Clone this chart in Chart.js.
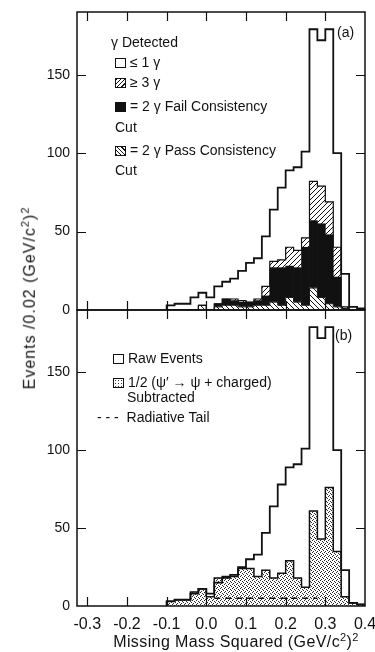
<!DOCTYPE html>
<html>
<head>
<meta charset="utf-8">
<script src="https://cdn.jsdelivr.net/npm/chart.js@4.4.1/dist/chart.umd.min.js"></script>
<style>
  body { margin: 0; background: #fff; }
  #wrap { position: relative; width: 375px; height: 652px; overflow: hidden;
          font-family: "Liberation Sans", Arial, sans-serif; color: #111; }
  canvas { position: absolute; left: 0; }
  .lg { position: absolute; font-size: 14px; line-height: 14px; white-space: nowrap; }
  .sw { display: inline-block; width: 9px; height: 8px; border: 1px solid #111;
        vertical-align: -1px; margin-right: 4px; background: #fff; }
  .sw.fwd { background: repeating-linear-gradient(135deg, #111 0 1px, #fff 1px 3px); }
  .sw.back { background: repeating-linear-gradient(45deg, #111 0 1px, #fff 1px 3px); }
  .sw.blk { background: #111; }
  .sw.dots { background: radial-gradient(#333 0.7px, #fff 1px) 0 0 / 3px 3px; }
  .ytitle { position: absolute; left: 29px; top: 298px; font-size: 16px; white-space: nowrap;
            letter-spacing: 1px; transform: translate(-50%, -50%) rotate(-90deg); }
  .xtitle { position: absolute; left: 236px; top: 641px; font-size: 16px; white-space: nowrap;
            letter-spacing: 0.4px; transform: translate(-50%, -50%); }
</style>
</head>
<body>
<div id="wrap">
  <canvas id="top" style="top:0" width="375" height="330"></canvas>
  <canvas id="bot" style="top:300px" width="375" height="352"></canvas>

  <div class="lg" style="left:111px;top:35px">γ Detected</div>
  <div class="lg" style="left:115px;top:55px"><span class="sw"></span>≤ 1 γ</div>
  <div class="lg" style="left:115px;top:75px"><span class="sw fwd"></span>≥ 3 γ</div>
  <div class="lg" style="left:115px;top:99px"><span class="sw blk"></span>= 2 γ Fail Consistency</div>
  <div class="lg" style="left:115px;top:120px">Cut</div>
  <div class="lg" style="left:115px;top:143px"><span class="sw back"></span>= 2 γ Pass Consistency</div>
  <div class="lg" style="left:115px;top:163px">Cut</div>
  <div class="lg" style="left:337px;top:25px">(a)</div>

  <div class="lg" style="left:113px;top:351px"><span class="sw"></span>Raw Events</div>
  <div class="lg" style="left:113px;top:375px"><span class="sw dots"></span>1/2 (ψ′ → ψ + charged)</div>
  <div class="lg" style="left:127px;top:390px">Subtracted</div>
  <div class="lg" style="left:97px;top:410px">- - -&nbsp; Radiative Tail</div>
  <div class="lg" style="left:335px;top:328px">(b)</div>

  <div class="ytitle">Events /0.02 (GeV/c<sup style="font-size:11px">2</sup>)<sup style="font-size:11px">2</sup></div>
  <div class="xtitle">Missing Mass Squared (GeV/c<sup style="font-size:11px">2</sup>)<sup style="font-size:11px">2</sup></div>
</div>

<script>
// ── Data ────────────────────────────────────────────────────────────────────
const BIN_W = 0.02;
const BIN_LEFT = [-0.10, -0.08, -0.06, -0.04, -0.02, 0.00, 0.02, 0.04, 0.06, 0.08,
                  0.10, 0.12, 0.14, 0.16, 0.18, 0.20, 0.22, 0.24, 0.26, 0.28,
                  0.30, 0.32, 0.34, 0.36, 0.38];

// raw events (same histogram in both panels)
const RAW        = [3, 4, 4, 8, 11, 8, 15, 18, 20, 25, 30, 33, 47, 64, 78, 89, 91, 101, 179, 172, 179, 100, 23, 2, 1];
// panel (a) layers, bottom to top
const PASS_2G    = [0, 0, 0, 0, 3, 0, 2, 3, 3, 2, 2, 3, 3, 5, 3, 8, 5, 3, 14, 8, 4, 2, 1, 0, 0];
const FAIL_2G    = [0, 0, 0, 0, 0, 0, 2, 4, 3, 3, 3, 3, 6, 22, 24, 20, 22, 37, 43, 47, 44, 19, 0, 0, 0];
const GE_3G      = [0, 0, 0, 0, 0, 0, 0, 0, 1, 1, 0, 1, 6, 4, 5, 12, 11, 6, 25, 24, 21, 19, 1, 0, 0];
// panel (b)
const SUBTRACTED = [3, 4, 4, 9, 11, 6, 18, 19, 19, 24, 24, 19, 23, 18, 21, 29, 18, 12, 61, 43, 76, 35, 6, 2, 1];
const TAIL_X     = [0.02, 0.28];
const TAIL_Y     = [5, 5];

const X_TICKS  = [-0.3, -0.2, -0.1, 0.0, 0.1, 0.2, 0.3, 0.4];
const X_LABELS = ['-0.3', '-0.2', '-0.1', '0.0', '0.1', '0.2', '0.3', '0.4'];
const Y_TICKS  = [0, 50, 100, 150];

// ── Helpers ─────────────────────────────────────────────────────────────────
const INK = '#111';
const TICK_LEN = 9;
const EDGES = BIN_LEFT.concat([BIN_LEFT[BIN_LEFT.length - 1] + BIN_W]);

function bars(vals) {
  return vals.map((v, i) => ({ x: BIN_LEFT[i] + BIN_W / 2, y: v }));
}
function steps(vals) {
  const p = [{ x: EDGES[0], y: 0 }];
  vals.forEach((v, i) => p.push({ x: EDGES[i + 1], y: v }));
  p.push({ x: EDGES[EDGES.length - 1], y: 0 });
  return p;
}
function sum(...arrs) { return arrs[0].map((_, i) => arrs.reduce((s, a) => s + a[i], 0)); }

function pattern(kind) {
  const c = document.createElement('canvas');
  const n = kind === 'dots' ? 4 : 5;
  c.width = c.height = n;
  const g = c.getContext('2d');
  g.fillStyle = '#fff'; g.fillRect(0, 0, n, n);
  if (kind === 'dots') {
    // scattered stipple, one dot per row
    g.fillStyle = '#2a2a2a';
    [[0, 0], [2, 1], [1, 3], [3, 2]].forEach(([px, py]) => g.fillRect(px, py, 1, 1));
    return g.createPattern(c, 'repeat');
  }
  g.strokeStyle = INK; g.lineWidth = 1;
  g.beginPath();
  if (kind === 'fwd') {
    g.moveTo(0, n); g.lineTo(n, 0);
    g.moveTo(-1, 1); g.lineTo(1, -1);
    g.moveTo(n - 1, n + 1); g.lineTo(n + 1, n - 1);
  } else {
    g.moveTo(0, 0); g.lineTo(n, n);
    g.moveTo(n - 1, -1); g.lineTo(n + 1, 1);
    g.moveTo(-1, n - 1); g.lineTo(1, n + 1);
  }
  g.stroke();
  return g.createPattern(c, 'repeat');
}

function barSet(vals, fill) {
  return { type: 'bar', data: bars(vals), backgroundColor: fill, borderWidth: 0,
           barPercentage: 1, categoryPercentage: 1, order: 2, stack: 'h' };
}
function lineSet(pts, width, id, dash) {
  return { type: 'line', data: pts, borderColor: INK, borderWidth: width, pointRadius: 0,
           stepped: 'after', fill: false, order: 0, stack: id, borderDash: dash || [] };
}

// frame with inward ticks on all four sides
const framePlugin = {
  id: 'frame',
  afterDatasetsDraw(chart) {
    const { ctx, chartArea: a, scales: { x, y } } = chart;
    ctx.save();
    ctx.strokeStyle = INK;
    ctx.lineWidth = 1.5;
    ctx.strokeRect(a.left, a.top, a.right - a.left, a.bottom - a.top);
    ctx.lineWidth = 1.2;
    ctx.beginPath();
    X_TICKS.forEach(v => {
      const px = Math.round(x.getPixelForValue(v)) + 0.5;
      if (px <= a.left + 1 || px >= a.right - 1) return;
      ctx.moveTo(px, a.top); ctx.lineTo(px, a.top + TICK_LEN);
      ctx.moveTo(px, a.bottom); ctx.lineTo(px, a.bottom - TICK_LEN);
    });
    Y_TICKS.forEach(v => {
      const py = Math.round(y.getPixelForValue(v)) + 0.5;
      if (py >= a.bottom - 1 || py <= a.top + 1) return;
      ctx.moveTo(a.left, py); ctx.lineTo(a.left + TICK_LEN, py);
      ctx.moveTo(a.right, py); ctx.lineTo(a.right - TICK_LEN, py);
    });
    ctx.stroke();
    ctx.restore();
  }
};

const FONT = { family: '"Liberation Sans", Arial, sans-serif', size: 14 };

function scales(showX) {
  return {
    x: {
      type: 'linear', min: -0.326, max: 0.4, offset: false, stacked: true,
      display: showX,
      grid: { display: false, drawTicks: false }, border: { display: false },
      afterBuildTicks: s => { s.ticks = X_TICKS.map(v => ({ value: v })); },
      afterFit: s => { s.height = showX ? 46 : 0; s.paddingLeft = 0; s.paddingRight = 0; },
      ticks: { color: INK, font: { ...FONT, size: 16 }, padding: 9, maxRotation: 0,
               autoSkip: false, callback: (v, i) => X_LABELS[i] }
    },
    y: {
      min: 0, max: 190, stacked: true,
      grid: { display: false, drawTicks: false }, border: { display: false },
      afterBuildTicks: s => { s.ticks = Y_TICKS.map(v => ({ value: v })); },
      afterFit: s => { s.width = 77; s.paddingTop = 0; s.paddingBottom = 0; },
      ticks: { color: INK, font: FONT, padding: 7 }
    }
  };
}

const baseOpts = (showX, pad) => ({
  responsive: false, animation: false,
  layout: { padding: pad },
  plugins: { legend: { display: false }, tooltip: { enabled: false } },
  scales: scales(showX)
});

// ── Panel (a) ───────────────────────────────────────────────────────────────
new Chart(document.getElementById('top'), {
  type: 'bar',
  data: {
    datasets: [
      barSet(PASS_2G, pattern('back')),
      barSet(FAIL_2G, INK),
      barSet(GE_3G, pattern('fwd')),
      lineSet(steps(PASS_2G), 1, 'l1'),
      lineSet(steps(sum(PASS_2G, FAIL_2G, GE_3G)), 1.2, 'l2'),
      lineSet(steps(RAW), 1.8, 'l3')
    ]
  },
  options: baseOpts(false, { top: 12, right: 10, bottom: 20, left: 0 }),
  plugins: [framePlugin]
});

// ── Panel (b) ───────────────────────────────────────────────────────────────
new Chart(document.getElementById('bot'), {
  type: 'bar',
  data: {
    datasets: [
      barSet(SUBTRACTED, pattern('dots')),
      lineSet(steps(SUBTRACTED), 1.5, 'l1'),
      lineSet(steps(RAW), 1.8, 'l2'),
      { type: 'line', data: TAIL_X.map((x, i) => ({ x, y: TAIL_Y[i] })), borderColor: INK,
        borderWidth: 1.5, borderDash: [6, 5], pointRadius: 0, fill: false, order: 0, stack: 'l3' }
    ]
  },
  options: baseOpts(true, { top: 10, right: 10, bottom: 0, left: 0 }),
  plugins: [framePlugin]
});
</script>
</body>
</html>
